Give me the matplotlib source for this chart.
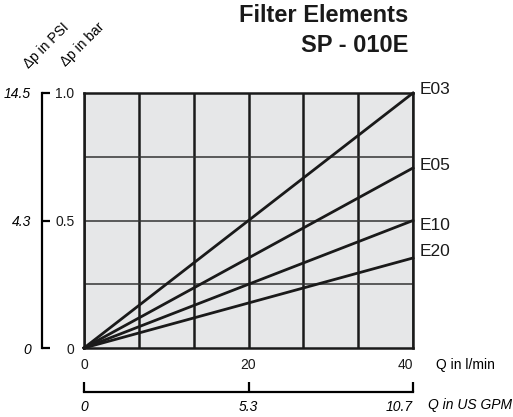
import matplotlib
matplotlib.use("Agg")
import matplotlib.pyplot as plt

plt.rcParams["font.family"] = ["Liberation Sans", "DejaVu Sans"]

W, H = 513, 417

# data: flow in l/min, pressure drop in bar
flow = [0, 40]
elements = ["E03", "E05", "E10", "E20"]
dp_end = [1.0, 0.706, 0.5, 0.353]

bar_ticks = [0, 0.5, 1.0]
bar_labels = ["0", "0.5", "1.0"]
psi_labels = ["0", "4.3", "14.5"]
lpm_ticks = [0, 20, 40]
lpm_labels = ["0", "20", "40"]
gpm_labels = ["0", "5.3", "10.7"]

grid_x = [0, 6.67, 13.33, 20, 26.67, 33.33, 40]
grid_y = [0.25, 0.5, 0.75, 1.0]


def px(x0, y0, x1, y1):
    return [x0 / W, 1 - y1 / H, (x1 - x0) / W, (y1 - y0) / H]


fig = plt.figure(figsize=(W / 100, H / 100), dpi=100)

ax = fig.add_axes(px(84, 93, 413, 348))
ax.set_facecolor("#e6e7e8")
ax.set_xlim(0, 40)
ax.set_ylim(0, 1)
for gx in grid_x:
    ax.axvline(gx, color="#1a1a1a", lw=1.8, zorder=1)
for gy in grid_y:
    ax.axhline(gy, color="#333333", lw=1.1, zorder=1)
for name, d in zip(elements, dp_end):
    ax.plot(flow, [0, d], color="#1a1a1a", lw=2.0, zorder=3, clip_on=False)
for s in ax.spines.values():
    s.set_linewidth(1.8)
    s.set_color("#1a1a1a")
ax.set_yticks(bar_ticks)
ax.set_yticklabels(bar_labels)
ax.set_xticks(lpm_ticks)
ax.set_xticklabels(lpm_labels)
ax.tick_params(length=0, labelsize=10, pad=7, colors="#1a1a1a")
ax.get_xticklabels()[-1].set_ha("right")
ax.get_xticklabels()[-1].set_x(40)

label_y = [90, 165, 225, 251]
for name, ly in zip(elements, label_y):
    fig.text(420 / W, 1 - ly / H, name, fontsize=12.5, va="center", ha="left", color="#1a1a1a")

# PSI scale
ax_psi = fig.add_axes(px(42, 93, 60, 348))
ax_psi.set_ylim(0, 1)
ax_psi.set_xticks([])
for k in ["top", "right", "bottom"]:
    ax_psi.spines[k].set_visible(False)
ax_psi.patch.set_visible(False)
ax_psi.spines["left"].set_linewidth(1.6)
ax_psi.set_yticks(bar_ticks)
ax_psi.set_yticklabels(psi_labels, fontstyle="italic")
ax_psi.tick_params(axis="y", direction="in", length=6, width=1.6, labelsize=10, pad=8)

# GPM scale
ax_gpm = fig.add_axes(px(84, 380, 413, 392))
ax_gpm.set_xlim(0, 40)
ax_gpm.set_yticks([])
for k in ["top", "right", "left"]:
    ax_gpm.spines[k].set_visible(False)
ax_gpm.patch.set_visible(False)
ax_gpm.spines["bottom"].set_linewidth(1.6)
ax_gpm.set_xticks(lpm_ticks)
ax_gpm.set_xticklabels(gpm_labels, fontstyle="italic")
ax_gpm.tick_params(axis="x", direction="in", length=7, width=1.6, labelsize=10, pad=6)
ax_gpm.get_xticklabels()[-1].set_ha("right")

fig.text(436 / W, 1 - 365 / H, "Q in l/min", fontsize=10, va="center", ha="left")
fig.text(428 / W, 1 - 405 / H, "Q in US GPM", fontsize=10, va="center", ha="left", fontstyle="italic")

fig.text(46 / W, 1 - 46 / H, "Δp in PSI", fontsize=10, rotation=45, ha="center", va="center")
fig.text(83 / W, 1 - 44 / H, "Δp in bar", fontsize=10, rotation=45, ha="center", va="center")

fig.text(408 / W, 1 - 16 / H, "Filter Elements", fontsize=17, fontweight="bold", ha="right", va="center", color="#1a1a1a")
fig.text(408 / W, 1 - 45 / H, "SP - 010E", fontsize=17, fontweight="bold", ha="right", va="center", color="#1a1a1a")

fig.savefig("out.png", dpi=100)
